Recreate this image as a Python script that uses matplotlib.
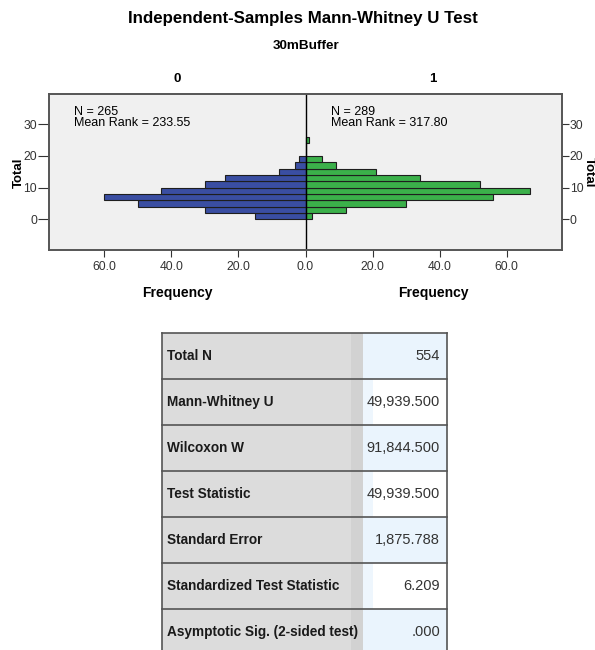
import numpy as np
import matplotlib
matplotlib.use("Agg")
import matplotlib.pyplot as plt
from matplotlib.patches import Rectangle

plt.rcParams['font.family'] = ['Liberation Sans', 'DejaVu Sans']

# %%
# histogram data (bins of width 2 on "Total")
bin_lo = np.arange(0, 26, 2)
freq_0 = [15, 30, 50, 60, 43, 30, 24, 8, 3, 2, 0, 0, 0]
freq_1 = [2, 12, 30, 56, 67, 52, 34, 21, 9, 5, 0, 0, 1]
n_0, rank_0 = 265, 233.55
n_1, rank_1 = 289, 317.80

x_ticks = [-60, -40, -20, 0, 20, 40, 60]
y_ticks = [0, 10, 20, 30]

row_labels = ['Total N', 'Mann-Whitney U', 'Wilcoxon W', 'Test Statistic',
              'Standard Error', 'Standardized Test Statistic',
              'Asymptotic Sig. (2-sided test)']
row_values = ['554', '49,939.500', '91,844.500', '49,939.500',
              '1,875.788', '6.209', '.000']

# %%
W, H = 595, 650
fig = plt.figure(figsize=(W / 100, H / 100), dpi=100)
fig.set_facecolor('white')

def fx(px):
    return px / W

def fy(py):
    return 1 - py / H

fig.text(fx(303), fy(18), 'Independent-Samples Mann-Whitney U Test',
         ha='center', va='center', fontsize=12.2, fontweight='bold')
fig.text(fx(306), fy(46), '30mBuffer', ha='center', va='center',
         fontsize=9.7, fontweight='bold', fontstretch='condensed')

# plot area
ax = fig.add_axes([fx(49), fy(250), fx(562) - fx(49), (250 - 94) / H])
ax.set_facecolor('#f0f0f0')
ax.barh(bin_lo + 1, -np.array(freq_0), height=2, color='#3a4ea2',
        edgecolor='#1e1e1e', lw=0.8)
ax.barh(bin_lo + 1, freq_1, height=2, color='#3bb04a',
        edgecolor='#1e1e1e', lw=0.8)
ax.axvline(0, color='k', lw=1)
ax.set_xlim(-76.5, 76.5)
ax.set_ylim(-9.7, 39.5)
ax.set_xticks(x_ticks)
ax.set_xticklabels([f'{abs(v):.1f}' for v in x_ticks])
ax.set_yticks(y_ticks)
ax.tick_params(axis='both', labelsize=8.7, colors='#333333', width=0.8)
ax.tick_params(axis='y', length=8, pad=0.5)
ax.tick_params(axis='x', length=5, pad=3)

# right-hand axis copy
ax2 = ax.twinx()
ax2.set_ylim(ax.get_ylim())
ax2.set_yticks(y_ticks)
ax2.tick_params(axis='y', labelsize=8.7, colors='#333333', width=0.8,
                length=5, pad=0.5)
for a in (ax, ax2):
    for s in a.spines.values():
        s.set_color('#555555')
        s.set_linewidth(1.2)

ax.text(-69, 35.8, f'N = {n_0}\nMean Rank = {rank_0:.2f}', fontsize=9,
        va='top', ha='left', linespacing=0.95)
ax.text(7.6, 35.8, f'N = {n_1}\nMean Rank = {rank_1:.2f}', fontsize=9,
        va='top', ha='left', linespacing=0.95)

fig.text(fx(19), fy(173), 'Total', rotation=90, ha='center', va='center',
         fontsize=9.5, fontweight='bold')
fig.text(fx(589), fy(172), 'Total', rotation=270, ha='center', va='center',
         fontsize=9.5, fontweight='bold')
fig.text(fx(177), fy(79), '0', ha='center', va='center', fontsize=9.5,
         fontweight='bold')
fig.text(fx(433), fy(79), '1', ha='center', va='center', fontsize=9.5,
         fontweight='bold')
fig.text(fx(177), fy(293), 'Frequency', ha='center', va='center',
         fontsize=10, fontweight='bold')
fig.text(fx(433), fy(293), 'Frequency', ha='center', va='center',
         fontsize=10, fontweight='bold')

# %%
# test summary table
tab = fig.add_axes([0, 0, 1, 1])
tab.set_xlim(0, W)
tab.set_ylim(H, 0)
tab.axis('off')

left, mid, right = 162, 363, 447
top, rh = 333, 46
for i, (lab, val) in enumerate(zip(row_labels, row_values)):
    y0 = top + i * rh
    tab.add_patch(Rectangle((left, y0), mid - left, rh, fc='#dcdcdc', ec='none'))
    tab.add_patch(Rectangle((mid - 12, y0), 12, rh, fc='#d2d2d2', ec='none'))
    vc = '#eaf4fd' if i % 2 == 0 else 'white'
    tab.add_patch(Rectangle((mid, y0), right - mid, rh, fc=vc, ec='none'))
    if i % 2 == 1:
        tab.add_patch(Rectangle((mid, y0), 10, rh, fc='#eef6fd', ec='none'))
    tab.plot([left, right], [y0, y0], color='#555555', lw=1.2)
    tab.text(left + 5, y0 + rh / 2, lab, ha='left', va='center',
             fontsize=9.8, fontweight='bold', color='#1a1a1a')
    tab.text(right - 7, y0 + rh / 2, val, ha='right', va='center',
             fontsize=10.5, color='#333333')
tab.plot([left, left], [top, H], color='#555555', lw=1.2)
tab.plot([right, right], [top, H], color='#555555', lw=1.2)

fig.savefig('out.png', dpi=100)
